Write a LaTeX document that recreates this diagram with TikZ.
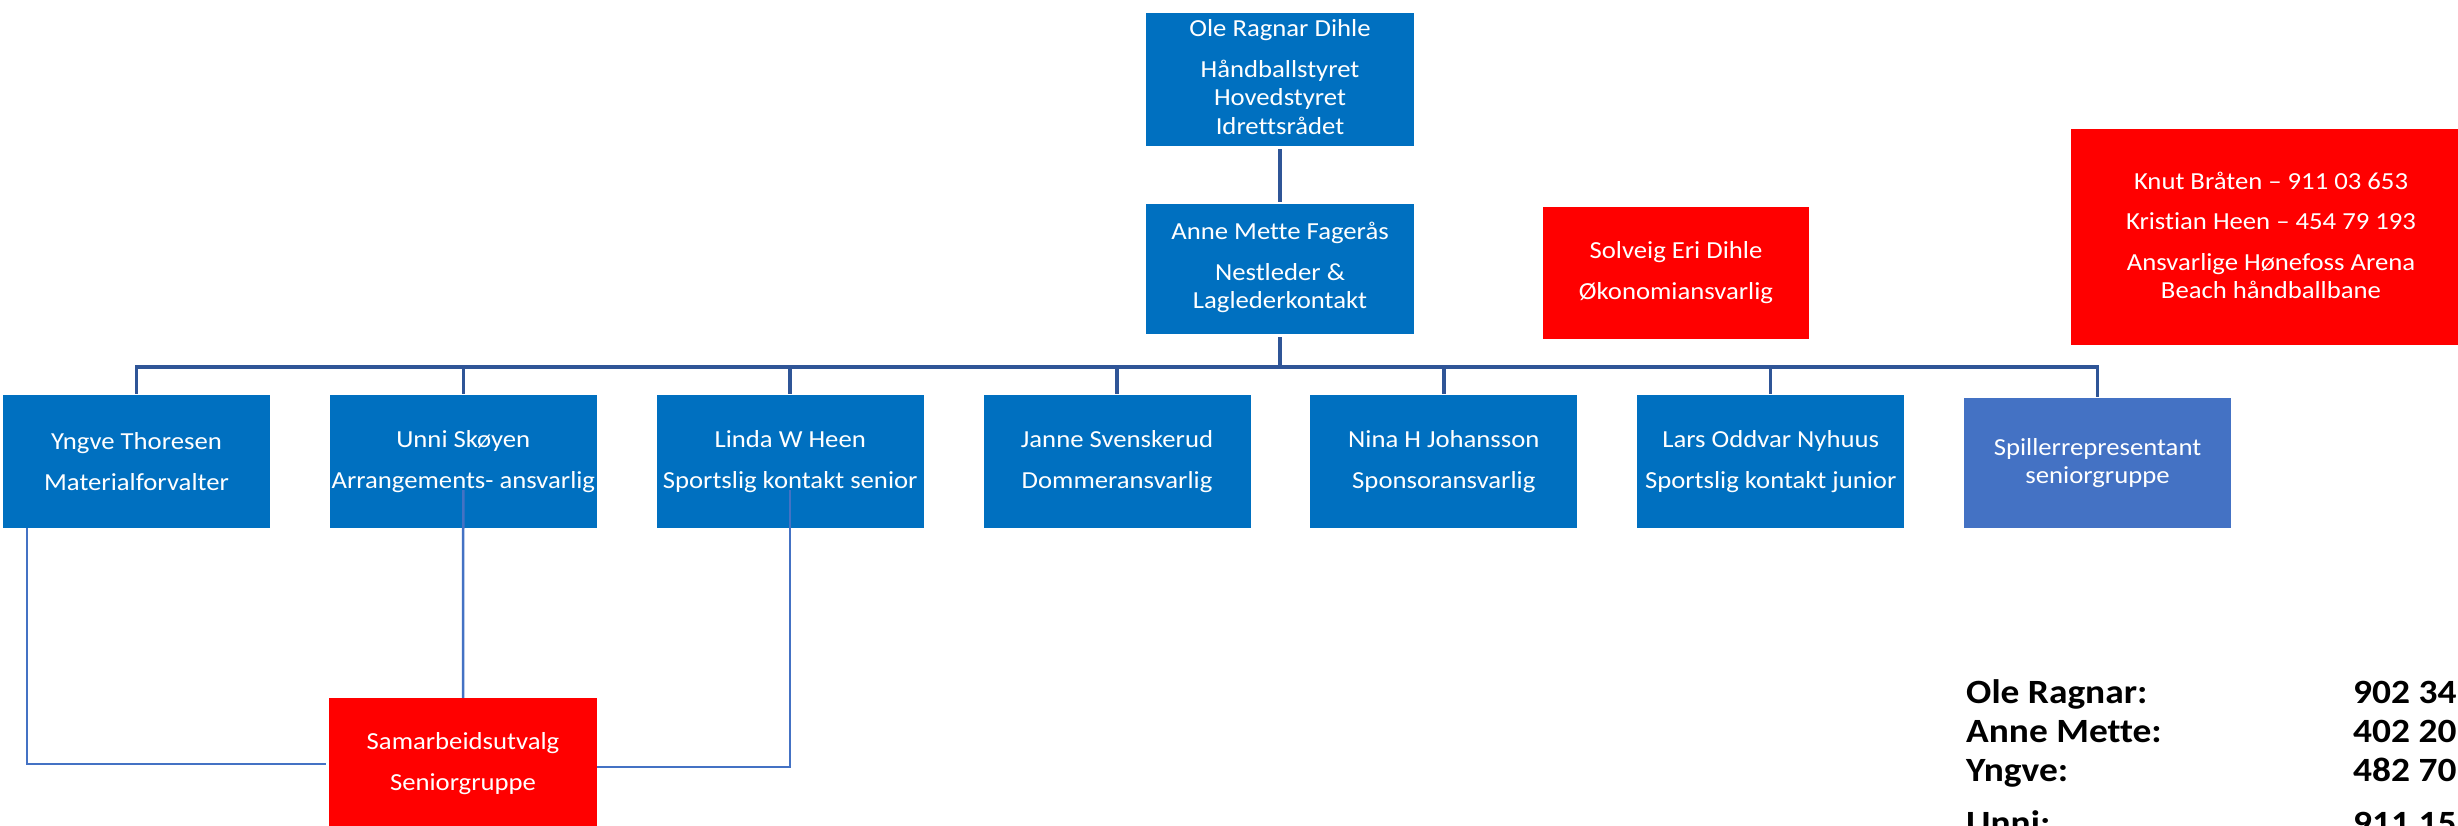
\documentclass[tikz,border=0pt]{standalone}
\usepackage{fontspec}
\setmainfont[Ligatures=NoCommon, FakeStretch=1.09]{Carlito}
\newfontfamily\listfont[Ligatures=NoCommon, FakeStretch=1.1]{Carlito}
\definecolor{orgblue}{HTML}{0070C0}
\definecolor{orgred}{HTML}{FF0000}
\definecolor{repblue}{HTML}{4472C4}
\definecolor{linedark}{HTML}{2F5597}
\definecolor{linelight}{HTML}{4472C4}
\newcommand{\lowpad}[1]{\rule[-#1]{0pt}{#1}}
\tikzset{
  box/.style={inner sep=0pt, text=white, align=center, font=\fontsize{24.5}{28.5}\selectfont},
  bluebox/.style={box, fill=orgblue},
  redbox/.style={box, fill=orgred},
  repbox/.style={box, fill=repblue},
  rowbox/.style={bluebox, minimum width=267pt, minimum height=133pt},
  orgline/.style={draw=linedark, line width=3.5pt},
  sline/.style={draw=linelight, line width=2.5pt},
  listtext/.style={inner sep=0pt, anchor=base west, font=\listfont\fontsize{34}{40}\selectfont\bfseries}
}
\begin{document}
\begin{tikzpicture}[x=1pt,y=-1pt]
\useasboundingbox (0,0) rectangle (2458,826);
\clip (0,0) rectangle (2458,826);
\fill[white] (0,0) rectangle (2458,826);

\node[bluebox, minimum width=268pt, minimum height=133pt] (top) at (1280,79.5)
  {Ole Ragnar Dihle\\[12.5pt]Håndballstyret\\Hovedstyret\\Idrettsrådet\lowpad{6pt}};
\node[bluebox, minimum width=268pt, minimum height=130pt] (mid) at (1280,269)
  {Anne Mette Fagerås\\[12.5pt]Nestleder \&\\Laglederkontakt\lowpad{7pt}};
\node[redbox, minimum width=266pt, minimum height=132pt] (solveig) at (1676,273)
  {Solveig Eri Dihle\\[12.5pt]Økonomiansvarlig};
\node[redbox, minimum width=400pt, minimum height=216pt] (knut) at (2271,237)
  {Knut Bråten – 911 03 653\\[11.5pt]Kristian Heen – 454 79 193\\[12.5pt]Ansvarlige Hønefoss Arena\\Beach håndballbane\lowpad{3pt}};

\node[rowbox] (b1) at (136.5,461.5) {Yngve Thoresen\\[12.5pt]Materialforvalter};
\node[rowbox] (b2) at (463.3,461.5) {Unni Skøyen\\[12.5pt]Arrangements- ansvarlig};
\node[rowbox] (b3) at (790.2,461.5) {Linda W Heen\\[12.5pt]Sportslig kontakt senior};
\node[rowbox] (b4) at (1117,461.5) {Janne Svenskerud\\[12.5pt]Dommeransvarlig};
\node[rowbox] (b5) at (1443.8,461.5) {Nina H Johansson\\[12.5pt]Sponsoransvarlig};
\node[rowbox] (b6) at (1770.7,461.5) {Lars Oddvar Nyhuus\\[12.5pt]Sportslig kontakt junior};
\node[repbox, minimum width=267pt, minimum height=130pt] (b7) at (2097.5,463)
  {Spillerrepresentant\\seniorgruppe};

\node[redbox, minimum width=268pt, minimum height=132pt] (sam) at (463,764)
  {Samarbeidsutvalg\\[12.5pt]Seniorgruppe};

\coordinate (bus) at (0,367);
\draw[orgline] ([yshift=-3pt]top.south) -- ([yshift=2pt]mid.north);
\foreach \b in {b1,b2,b3,b4,b5,b6,b7}{
  \draw[orgline] ([yshift=-3pt]mid.south) -- (mid.south |- bus) -| ([yshift=1pt]\b.north);
}

\draw[sline] ([xshift=24pt]b1.south west) |- ([xshift=-3pt]sam.west);
\draw[sline] ([yshift=-28.5pt]b2.center) -- (sam.north);
\draw[sline] ([yshift=-28.5pt]b3.center) |- ([yshift=-3pt]sam.east);

\node[listtext] (n1) at (1966,703) {Ole Ragnar:};
\node[listtext] (n2) at (1966,742) {Anne Mette:};
\node[listtext] (n3) at (1966,781) {Yngve:};
\node[listtext] (n4) at (1966,834) {Unni:};
\node[listtext] (p1) at (2353,703) {902 34};
\node[listtext] (p2) at (2353,742) {402 20};
\node[listtext] (p3) at (2353,781) {482 70};
\node[listtext] (p4) at (2353,834) {911 15};
\end{tikzpicture}
\end{document}
